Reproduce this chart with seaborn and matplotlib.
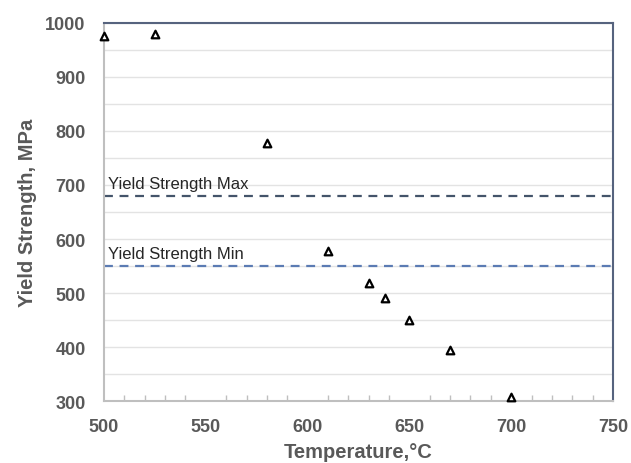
import matplotlib
matplotlib.use("Agg")
import matplotlib.pyplot as plt
import seaborn as sns
import pandas as pd
from matplotlib.ticker import MultipleLocator

temperature = [500, 525, 580, 610, 630, 638, 650, 670, 700]
yield_strength = [976, 979, 777, 578, 519, 491, 450, 394, 307]
ys_max = 680
ys_min = 550
x_ticks = [500, 550, 600, 650, 700, 750]
y_ticks = [300, 400, 500, 600, 700, 800, 900, 1000]

sns.set_theme(style="white")
plt.rcParams['font.family'] = ['Liberation Sans', 'DejaVu Sans']

df = pd.DataFrame({"Temperature": temperature, "YS": yield_strength})

fig = plt.figure(figsize=(6.31, 4.64), dpi=100)
ax = fig.add_axes([0.1648, 0.1336, 0.8067, 0.8147])

ax.set_xlim(500, 750)
ax.set_ylim(300, 1000)
ax.yaxis.set_minor_locator(MultipleLocator(50))
ax.xaxis.set_minor_locator(MultipleLocator(10))
ax.grid(True, which="both", axis="y", color="#e3e3e3", linewidth=1.0)
ax.set_axisbelow(True)

ax.axhline(ys_max, color="#44546a", linestyle=(0, (4, 3)), linewidth=1.6)
ax.axhline(ys_min, color="#5b7bb3", linestyle=(0, (4, 3)), linewidth=1.6)
ax.text(502, ys_max + 9, "Yield Strength Max", fontsize=12, color="#262626", va="bottom", ha="left")
ax.text(502, ys_min + 9, "Yield Strength Min", fontsize=12, color="#262626", va="bottom", ha="left")

sns.scatterplot(data=df, x="Temperature", y="YS", ax=ax, marker="^", s=30,
                facecolor="white", edgecolor="black", linewidth=1.6, clip_on=False, zorder=5)

ax.set_xticks(x_ticks)
ax.set_yticks(y_ticks)
ax.tick_params(axis="both", which="major", labelsize=13, labelcolor="#595959",
               length=4.3, color="#bfbfbf", width=1, direction="out")
ax.tick_params(axis="x", which="major", pad=8)
ax.tick_params(axis="y", which="major", pad=9)
ax.tick_params(axis="x", which="minor", length=4, color="#bfbfbf", width=1, direction="in", bottom=True)
ax.tick_params(axis="y", which="minor", length=0)
for lab in ax.get_xticklabels() + ax.get_yticklabels():
    lab.set_fontweight("bold")

for side in ["left", "bottom"]:
    ax.spines[side].set_color("#bfbfbf")
    ax.spines[side].set_linewidth(1.5)
for side in ["top", "right"]:
    ax.spines[side].set_color("#56637e")
    ax.spines[side].set_linewidth(1.5)
    ax.spines[side].set_visible(True)

ax.set_xlabel("Temperature,°C", fontsize=14.5, fontweight="bold", color="#595959", labelpad=5)
ax.set_ylabel("Yield Strength, MPa", fontsize=14.5, fontweight="bold", color="#595959", labelpad=6)

fig.savefig("out.png", dpi=100, facecolor="white")
